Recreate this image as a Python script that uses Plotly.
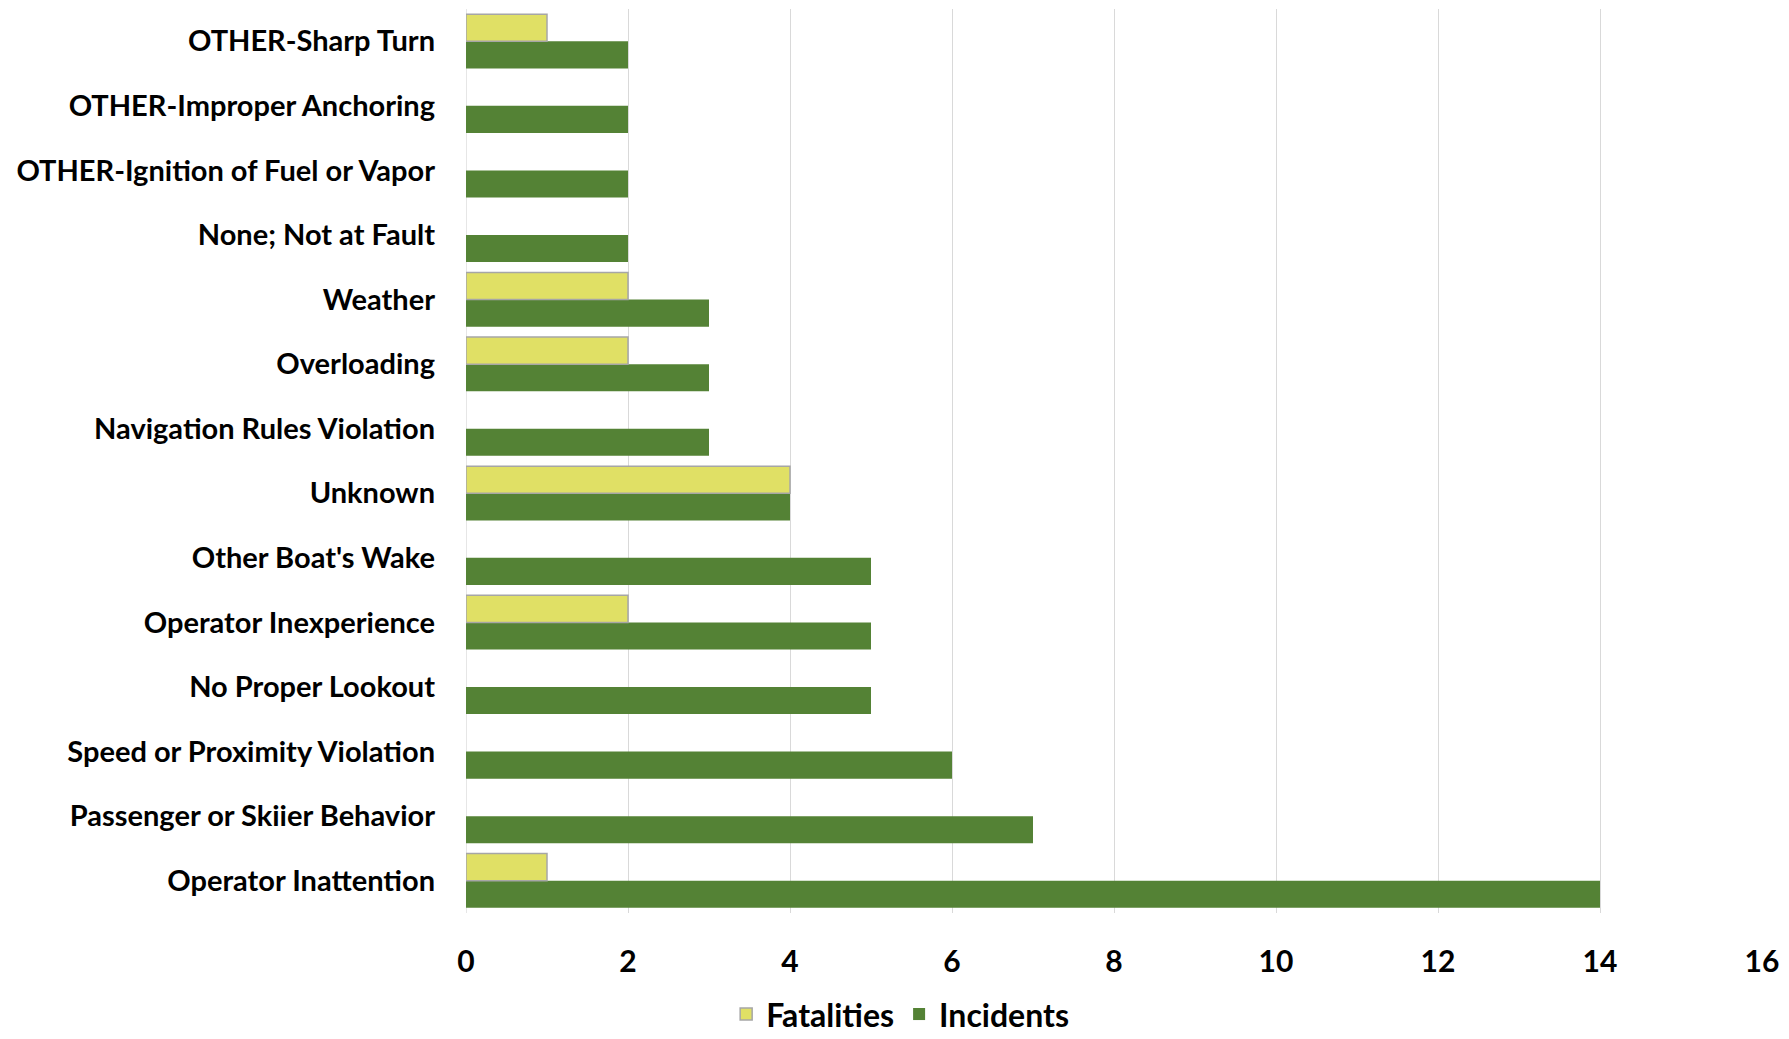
import plotly.graph_objects as go

categories = [
    "Operator Inattention",
    "Passenger or Skiier Behavior",
    "Speed or Proximity Violation",
    "No Proper Lookout",
    "Operator Inexperience",
    "Other Boat's Wake",
    "Unknown",
    "Navigation Rules Violation",
    "Overloading",
    "Weather",
    "None; Not at Fault",
    "OTHER-Ignition of Fuel or Vapor",
    "OTHER-Improper Anchoring",
    "OTHER-Sharp Turn",
]
incidents = [14, 7, 6, 5, 5, 5, 4, 3, 3, 3, 2, 2, 2, 2]
fatalities = [1, 0, 0, 0, 2, 0, 4, 0, 2, 2, 0, 0, 0, 1]
x_ticks = [0, 2, 4, 6, 8, 10, 12, 14, 16]

FONT = "Lato"

fig = go.Figure()
fig.add_trace(go.Bar(
    y=categories, x=incidents, orientation="h", name="Incidents",
    marker=dict(color="#548235", line=dict(width=0)),
    legendrank=2,
))
fig.add_trace(go.Bar(
    y=categories, x=fatalities, orientation="h", name="Fatalities",
    marker=dict(color="#E0E065",
                line=dict(color="#A6A6A6", width=[1.5 if v > 0 else 0 for v in fatalities])),
    legendrank=1,
))

fig.update_layout(
    width=1789, height=1039,
    paper_bgcolor="white", plot_bgcolor="white",
    barmode="group", bargap=0.16, bargroupgap=0,
    margin=dict(l=466, r=27, t=9, b=126, autoexpand=False),
    font=dict(family=FONT, color="black"),
    showlegend=True,
    legend=dict(orientation="h", x=0.335, xanchor="center", y=-0.112, yanchor="middle",
                font=dict(size=32, family=FONT, weight="bold"),
                bgcolor="rgba(0,0,0,0)",
                itemwidth=30, tracegroupgap=0),
    xaxis=dict(range=[0, 16], tickvals=x_ticks, showgrid=True, gridcolor="#D9D9D9",
               gridwidth=1.3, zeroline=False, showline=False, automargin=False,
               tickfont=dict(size=30, family=FONT, weight="bold"),
               ticks="", ticklabelstandoff=28),
    yaxis=dict(categoryorder="array", categoryarray=categories, showgrid=False,
               zeroline=False, showline=False, ticks="", automargin=False,
               tickfont=dict(size=29, family=FONT, weight="bold"),
               ticklabelstandoff=30),
)
fig.add_shape(type="line", xref="x", yref="paper", x0=0, x1=0, y0=0, y1=1,
              line=dict(color="#D9D9D9", width=1.3), layer="below")

fig.write_html("out.html", config={"displayModeBar": False},
               post_script="document.body.style.margin='0';document.body.style.overflow='hidden';")
